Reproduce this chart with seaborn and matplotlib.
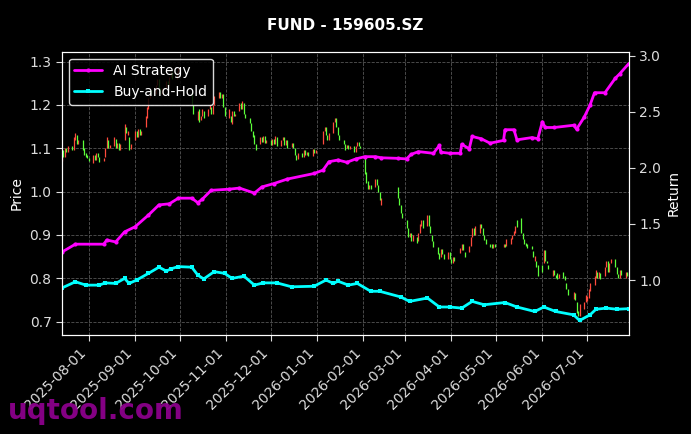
import pandas as pd
import numpy as np
import matplotlib
matplotlib.use("Agg")
import matplotlib.pyplot as plt
import matplotlib.dates as mdates
import seaborn as sns

# Daily candles (open / close), one line per month
opens = [
    1.070, 1.095, 1.080, 1.100, 1.092, 1.105, 1.095, 1.120, 1.130, 1.110, 1.118, 1.100, 1.090, 1.085,
    1.078, 1.065, 1.085, 1.072, 1.090, 1.080, 1.070, 1.080, 1.100, 1.120, 1.100, 1.105, 1.122, 1.100, 1.112, 1.095, 1.120, 1.150, 1.130, 1.125, 1.098,
    1.120, 1.140, 1.125, 1.145, 1.130, 1.150, 1.170, 1.190, 1.215, 1.235, 1.225, 1.245, 1.260, 1.240, 1.225, 1.240, 1.255, 1.245, 1.265, 1.275, 1.260, 1.275,
    1.230, 1.200, 1.165, 1.190, 1.165, 1.175, 1.185, 1.175, 1.190, 1.195, 1.180, 1.200, 1.215, 1.230, 1.215, 1.225, 1.195,
    1.170, 1.175, 1.155, 1.185, 1.175, 1.185, 1.205, 1.190, 1.205, 1.180, 1.170, 1.158, 1.140, 1.130, 1.110, 1.110, 1.125, 1.115, 1.128, 1.112,
    1.120, 1.108, 1.122, 1.110, 1.125, 1.105, 1.118, 1.125, 1.108, 1.118, 1.102, 1.112, 1.100, 1.085, 1.075, 1.090, 1.080, 1.095, 1.085, 1.092, 1.082, 1.098, 1.088,
    1.110, 1.140, 1.150, 1.130, 1.120, 1.135, 1.160, 1.170, 1.150, 1.130, 1.120, 1.110, 1.100, 1.108, 1.098, 1.105, 1.092, 1.105, 1.115, 1.105,
    1.080, 1.045, 1.025, 1.005, 1.015, 1.010, 1.030, 1.015, 1.000, 0.970, 1.010, 0.985, 0.970, 0.950,
    0.935, 0.915, 0.895, 0.905, 0.885, 0.895, 0.885, 0.905, 0.920, 0.935, 0.920, 0.945, 0.920, 0.900, 0.885, 0.872, 0.858, 0.850, 0.868, 0.855, 0.845, 0.860,
    0.845, 0.835, 0.848, 0.858, 0.865, 0.878, 0.860, 0.860, 0.875, 0.895, 0.915, 0.900, 0.905, 0.925, 0.915, 0.900, 0.890, 0.880, 0.878, 0.870, 0.880,
    0.872, 0.880, 0.875, 0.880, 0.890, 0.900, 0.905, 0.935, 0.940, 0.905, 0.890, 0.882, 0.878, 0.875, 0.862, 0.840, 0.840, 0.830,
    0.830, 0.835, 0.865, 0.840, 0.830, 0.805, 0.820, 0.808, 0.812, 0.800, 0.815, 0.805, 0.790, 0.775, 0.752, 0.765, 0.745, 0.725, 0.712, 0.728, 0.745,
    0.748, 0.755, 0.770, 0.785, 0.800, 0.815, 0.800, 0.812, 0.805, 0.825, 0.840, 0.815, 0.835, 0.845, 0.825, 0.810, 0.800, 0.818, 0.800, 0.815, 0.805,
]
closes = [
    1.095, 1.080, 1.100, 1.092, 1.105, 1.095, 1.125, 1.135, 1.110, 1.120, 1.095, 1.085, 1.080, 1.078,
    1.070, 1.085, 1.072, 1.090, 1.080, 1.068, 1.078, 1.100, 1.125, 1.100, 1.108, 1.125, 1.100, 1.112, 1.095, 1.110, 1.155, 1.135, 1.140, 1.095, 1.110,
    1.140, 1.125, 1.145, 1.130, 1.140, 1.175, 1.195, 1.215, 1.235, 1.225, 1.245, 1.260, 1.240, 1.225, 1.240, 1.255, 1.245, 1.265, 1.275, 1.260, 1.275, 1.285,
    1.200, 1.180, 1.185, 1.160, 1.175, 1.190, 1.170, 1.190, 1.200, 1.180, 1.200, 1.220, 1.230, 1.215, 1.225, 1.195, 1.175,
    1.190, 1.160, 1.185, 1.175, 1.180, 1.205, 1.190, 1.210, 1.180, 1.170, 1.158, 1.140, 1.125, 1.110, 1.095, 1.125, 1.115, 1.128, 1.112, 1.120,
    1.108, 1.122, 1.110, 1.128, 1.105, 1.118, 1.125, 1.108, 1.118, 1.100, 1.112, 1.100, 1.085, 1.072, 1.090, 1.080, 1.095, 1.085, 1.092, 1.082, 1.098, 1.088, 1.095,
    1.140, 1.150, 1.130, 1.120, 1.135, 1.160, 1.170, 1.150, 1.130, 1.120, 1.110, 1.095, 1.108, 1.098, 1.105, 1.092, 1.105, 1.115, 1.105, 1.100,
    1.040, 1.020, 1.005, 1.015, 1.005, 1.030, 1.015, 1.000, 0.980, 0.985, 0.985, 0.970, 0.950, 0.940,
    0.915, 0.895, 0.905, 0.885, 0.900, 0.882, 0.905, 0.925, 0.935, 0.915, 0.945, 0.920, 0.905, 0.885, 0.872, 0.855, 0.845, 0.868, 0.855, 0.845, 0.860, 0.845,
    0.835, 0.848, 0.840, 0.870, 0.878, 0.865, 0.850, 0.875, 0.895, 0.915, 0.900, 0.920, 0.925, 0.915, 0.900, 0.888, 0.878, 0.872, 0.870, 0.880, 0.872,
    0.880, 0.872, 0.890, 0.892, 0.900, 0.910, 0.920, 0.918, 0.905, 0.890, 0.880, 0.875, 0.870, 0.868, 0.850, 0.852, 0.825, 0.805,
    0.815, 0.865, 0.840, 0.835, 0.822, 0.820, 0.808, 0.800, 0.798, 0.810, 0.800, 0.795, 0.775, 0.762, 0.768, 0.750, 0.720, 0.712, 0.740, 0.745, 0.762,
    0.760, 0.775, 0.790, 0.805, 0.818, 0.800, 0.815, 0.798, 0.825, 0.840, 0.815, 0.835, 0.845, 0.825, 0.810, 0.800, 0.818, 0.808, 0.815, 0.805, 0.812,
]
holidays = ["2025-10-01", "2025-10-02", "2025-10-03", "2025-10-06", "2025-10-07", "2025-10-08",
            "2026-01-01", "2026-01-02", "2026-02-16", "2026-02-17", "2026-02-18", "2026-02-19",
            "2026-02-20", "2026-02-23", "2026-04-06", "2026-05-01", "2026-05-04", "2026-05-05",
            "2026-06-19"]

# Strategy returns
ai_dates = ["2025-07-14", "2025-07-23", "2025-08-11", "2025-08-13", "2025-08-19", "2025-08-25",
            "2025-09-01", "2025-09-10", "2025-09-17", "2025-09-24", "2025-09-30", "2025-10-09",
            "2025-10-13", "2025-10-16", "2025-10-22", "2025-11-03", "2025-11-10", "2025-11-20",
            "2025-11-25", "2025-12-03", "2025-12-12", "2025-12-30", "2026-01-05", "2026-01-09",
            "2026-01-15", "2026-01-21", "2026-01-27", "2026-02-02", "2026-02-09", "2026-02-13",
            "2026-02-24", "2026-03-02", "2026-03-05", "2026-03-10", "2026-03-20", "2026-03-24",
            "2026-03-25", "2026-03-31", "2026-04-07", "2026-04-08", "2026-04-13", "2026-04-15",
            "2026-04-21", "2026-04-27", "2026-05-06", "2026-05-07", "2026-05-13", "2026-05-15",
            "2026-05-25", "2026-05-29", "2026-06-01", "2026-06-03", "2026-06-09", "2026-06-22",
            "2026-06-24", "2026-06-29", "2026-07-03", "2026-07-06", "2026-07-13", "2026-07-20",
            "2026-07-23", "2026-07-29"]
ai_values = [1.25, 1.32, 1.32, 1.357, 1.34, 1.43, 1.475, 1.58, 1.67, 1.68, 1.73, 1.73,
             1.69, 1.72, 1.80, 1.81, 1.82, 1.775, 1.83, 1.86, 1.90, 1.95, 1.98, 2.055,
             2.07, 2.05, 2.08, 2.10, 2.10, 2.09, 2.085, 2.08, 2.12, 2.145, 2.13, 2.20,
             2.14, 2.13, 2.13, 2.21, 2.17, 2.28, 2.26, 2.22, 2.245, 2.34, 2.34, 2.25,
             2.27, 2.26, 2.41, 2.36, 2.36, 2.38, 2.345, 2.45, 2.56, 2.67, 2.67, 2.80,
             2.84, 2.93]

bh_dates = ["2025-07-14", "2025-07-23", "2025-07-30", "2025-08-08", "2025-08-12", "2025-08-19",
            "2025-08-25", "2025-08-28", "2025-09-02", "2025-09-10", "2025-09-17", "2025-09-22",
            "2025-09-25", "2025-09-30", "2025-10-09", "2025-10-13", "2025-10-17", "2025-10-24",
            "2025-10-31", "2025-11-05", "2025-11-13", "2025-11-20", "2025-11-26", "2025-12-05",
            "2025-12-15", "2025-12-30", "2026-01-07", "2026-01-12", "2026-01-15", "2026-01-22",
            "2026-01-28", "2026-02-06", "2026-02-12", "2026-02-26", "2026-03-04", "2026-03-16",
            "2026-03-24", "2026-03-31", "2026-04-08", "2026-04-15", "2026-04-23", "2026-05-07",
            "2026-05-15", "2026-05-27", "2026-06-02", "2026-06-10", "2026-06-22", "2026-06-26",
            "2026-07-03", "2026-07-07", "2026-07-14", "2026-07-21", "2026-07-29"]
bh_values = [0.93, 0.985, 0.955, 0.955, 0.975, 0.97, 1.015, 0.97, 1.00, 1.06, 1.115, 1.08,
             1.10, 1.12, 1.115, 1.045, 1.01, 1.075, 1.06, 1.015, 1.035, 0.955, 0.975, 0.975,
             0.94, 0.945, 1.00, 0.97, 0.99, 0.955, 0.97, 0.90, 0.90, 0.85, 0.81, 0.84,
             0.76, 0.76, 0.75, 0.81, 0.78, 0.80, 0.76, 0.72, 0.76, 0.72, 0.69, 0.64,
             0.69, 0.74, 0.75, 0.74, 0.745]

sns.set_style("dark")
plt.rcParams.update({
    "figure.facecolor": "black",
    "axes.facecolor": "black",
    "axes.edgecolor": "white",
    "text.color": "white",
    "axes.labelcolor": "white",
    "xtick.color": "#dddddd",
    "ytick.color": "#dddddd",
    "xtick.bottom": True,
    "ytick.left": True,
})
plt.rcParams["font.family"] = ["DejaVu Sans"]

trade_days = pd.bdate_range("2025-07-14", "2026-07-29")
trade_days = trade_days[~trade_days.isin(pd.to_datetime(holidays))]
df = pd.DataFrame({"date": trade_days, "open": opens, "close": closes})
up = df["close"] >= df["open"]

fig, ax = plt.subplots(figsize=(6.91, 4.34), dpi=100)
fig.subplots_adjust(left=0.0897, right=0.910, top=0.881, bottom=0.228)

# red = up, green = down (A-share convention)
ax.vlines(df["date"][up], df["open"][up], df["close"][up], color="#ff4a3d", linewidth=0.9)
ax.vlines(df["date"][~up], df["open"][~up], df["close"][~up], color="#5cff3a", linewidth=0.9)
ax.set_ylim(0.669, 1.323)
ax.set_ylabel("Price")
ax.grid(True, color="#555555", linestyle="--", linewidth=0.6)
ax.set_axisbelow(True)

ax2 = ax.twinx()
sns.lineplot(x=pd.to_datetime(ai_dates), y=ai_values, ax=ax2, color="#ff00ff", linewidth=2,
             marker="o", markersize=3, markeredgewidth=0, label="AI Strategy")
sns.lineplot(x=pd.to_datetime(bh_dates), y=bh_values, ax=ax2, color="#00ffff", linewidth=2,
             marker="s", markersize=3, markeredgewidth=0, label="Buy-and-Hold")
ax2.set_ylim(0.51, 3.036)
ax2.set_ylabel("Return")
ax2.set_xlabel("")
ax.set_xlabel("")
ax2.grid(False)

ax.set_xlim(pd.Timestamp("2025-07-14"), pd.Timestamp("2026-07-29"))
ax.xaxis.set_major_locator(mdates.MonthLocator())
ax.xaxis.set_major_formatter(mdates.DateFormatter("%Y-%m-%d"))
for lbl in ax.get_xticklabels():
    lbl.set_rotation(45)
    lbl.set_ha("right")
ax.tick_params(labelsize=10, length=4)
ax2.tick_params(labelsize=10, length=4, colors="#dddddd")
for sp in list(ax.spines.values()) + list(ax2.spines.values()):
    sp.set_color("white")

leg = ax2.legend(loc="upper left", facecolor="black", edgecolor="white", labelcolor="white",
                 framealpha=0.85, fontsize=10)

fig.suptitle("FUND - 159605.SZ", color="white", fontweight="bold", fontsize=11, y=0.958)
fig.text(0.012, 0.035, "uqtool.com", color="#8b008b", fontsize=20, fontweight="bold", alpha=0.95)

fig.savefig("out.png", dpi=100, facecolor="black")
